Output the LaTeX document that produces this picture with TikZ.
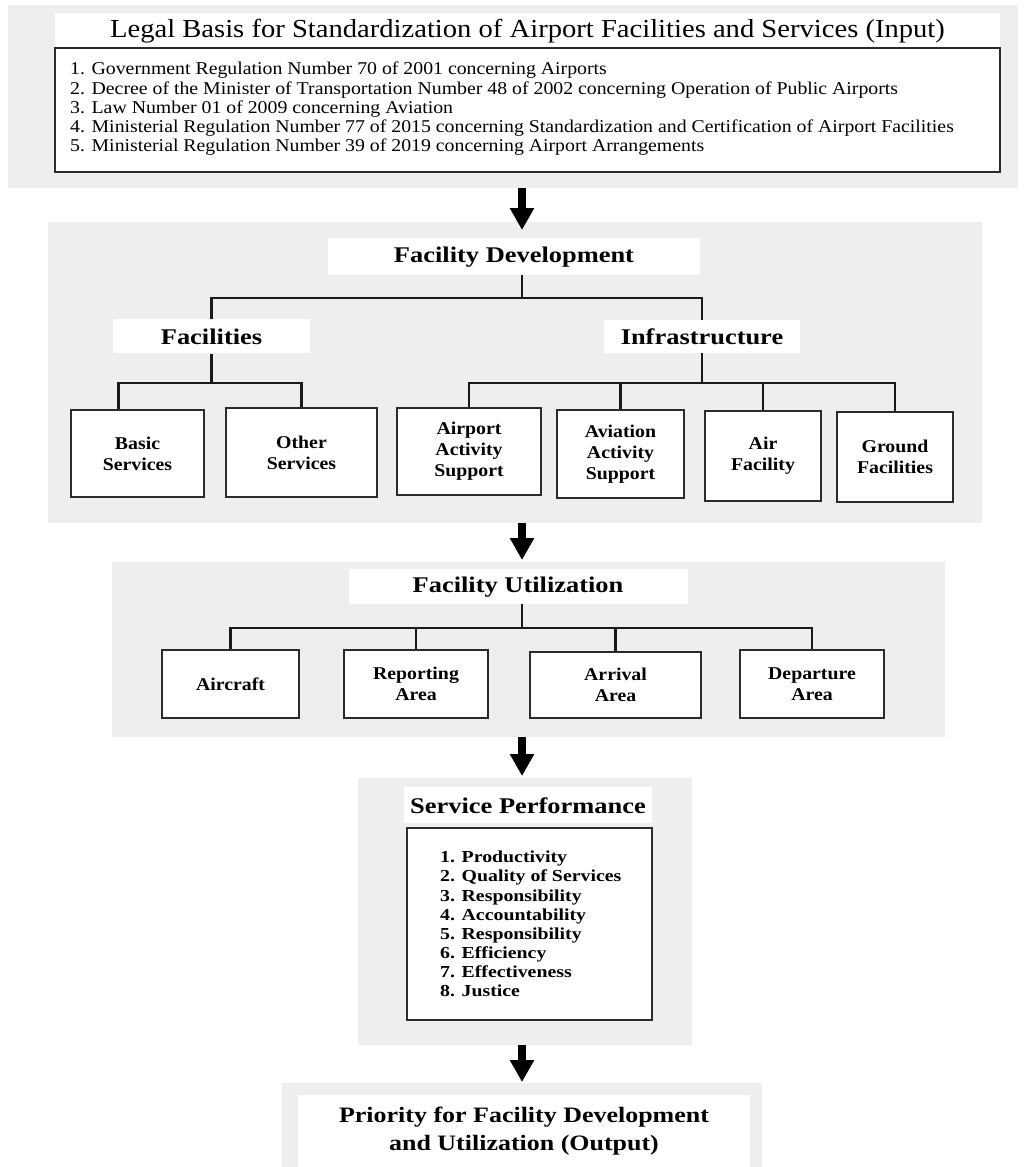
\documentclass[tikz,border=0pt]{standalone}
\usepackage{fontspec}
\setmainfont{Liberation Serif}
\newfontfamily\tfont[FakeStretch=1.1]{Liberation Serif}
\newfontfamily\wfont[FakeStretch=1.18]{Liberation Serif}
\usetikzlibrary{arrows.meta,fit}
\definecolor{bandgray}{HTML}{EEEEEE}
\definecolor{boxline}{HTML}{2B2B2B}
\begin{document}
\begin{tikzpicture}[x=1pt,y=-1pt,
  band/.style={fill=bandgray, draw=none, inner sep=0pt},
  whitebox/.style={fill=white, draw=none, inner sep=0pt},
  headlab/.style={fill=white, draw=none, inner sep=0pt, anchor=base, font=\wfont\bfseries\fontsize{22.4}{26}\selectfont},
  leaf/.style={draw=boxline, line width=1.8pt, fill=white, inner sep=0pt, align=center, font=\tfont\bfseries\fontsize{18}{21}\selectfont},
  listbox/.style={draw=boxline, line width=1.8pt, fill=white, inner sep=0pt},
  conn/.style={draw=black!90, line width=2.4pt},
  bigarrow/.style={draw=black, line width=8pt, -{Triangle[length=22pt,width=23pt]}},
]
\useasboundingbox (0,0) rectangle (1025,1167);
\fill[white] (0,0) rectangle (1025,1167);

% ---------- bands ----------
\node[band, fit={(8,5) (1018,188)}] (b1) {};
\node[band, fit={(48,222) (982,523)}] (b2) {};
\node[band, fit={(112,562) (945,737)}] (b3) {};
\node[band, fit={(358,778) (692,1045)}] (b4) {};
\node[band, fit={(282,1083) (762,1167)}] (b5) {};

\coordinate (axis) at (522,0);

% ---------- section 1 ----------
\node[fill=white, inner sep=0pt, anchor=base, minimum width=945pt, minimum height=36pt,
      font=\tfont\fontsize{26}{30}\selectfont] (title) at (527.5,37)
  {Legal Basis for Standardization of Airport Facilities and Services (Input)};
\node[listbox, fit={(55,48) (1000,172)}] (lawbox) {};
\node[anchor=north west, inner sep=0pt, align=left, font=\tfont\fontsize{18}{19.25}\selectfont] (laws) at (70,62)
  {1. Government Regulation Number 70 of 2001 concerning Airports\\
   2. Decree of the Minister of Transportation Number 48 of 2002 concerning Operation of Public Airports\\
   3. Law Number 01 of 2009 concerning Aviation\\
   4. Ministerial Regulation Number 77 of 2015 concerning Standardization and Certification of Airport Facilities\\
   5. Ministerial Regulation Number 39 of 2019 concerning Airport Arrangements};

% ---------- section 2 ----------
\node[headlab, minimum width=372pt, minimum height=37pt] (fd) at (514,262) {Facility Development};
\node[headlab, minimum width=197pt, minimum height=34pt] (fac) at (211.5,344) {Facilities};
\node[headlab, minimum width=196pt, minimum height=33pt] (inf) at (702,344) {Infrastructure};

\node[leaf, minimum width=133pt, minimum height=87pt] (bs)  at (137.5,453.5) {Basic\\Services};
\node[leaf, minimum width=151pt, minimum height=89pt] (os)  at (301.5,452.5) {Other\\Services};
\node[leaf, minimum width=144pt, minimum height=87pt] (aps) at (469,451.5)   {Airport\\Activity\\Support};
\node[leaf, minimum width=127pt, minimum height=88pt] (avs) at (620.5,454)   {Aviation\\Activity\\Support};
\node[leaf, minimum width=116pt, minimum height=90pt] (af)  at (763,456)     {Air\\Facility};
\node[leaf, minimum width=116pt, minimum height=90pt] (gf)  at (895,457)     {Ground\\Facilities};

\coordinate (fdj) at (522,298);
\draw[conn] (fd.south -| fdj) -- (fdj);
\draw[conn] (fac.north) |- (fdj) -| (inf.north);

\coordinate (facj) at (211.5,383);
\draw[conn] (fac.south) -- (facj);
\draw[conn] ([xshift=-19pt]bs.north) |- (os.north |- facj) -- (os.north);

\coordinate (infj) at (702,383);
\draw[conn] (inf.south) -- (infj);
\draw[conn] (aps.north) |- (gf.north |- infj) -- (gf.north);
\draw[conn] (avs.north) -- (avs.north |- infj);
\draw[conn] (af.north) -- (af.north |- infj);

% ---------- section 3 ----------
\node[headlab, minimum width=339pt, minimum height=35pt] (fu) at (518,592) {Facility Utilization};
\node[leaf, minimum width=137pt, minimum height=68pt] (ac)  at (230.5,684) {Aircraft};
\node[leaf, minimum width=144pt, minimum height=68pt] (rep) at (416,684)   {Reporting\\Area};
\node[leaf, minimum width=171pt, minimum height=66pt] (arr) at (615.5,685) {Arrival\\Area};
\node[leaf, minimum width=144pt, minimum height=68pt] (dep) at (812,684)   {Departure\\Area};

\coordinate (fuj) at (522,628);
\draw[conn] (fu.south -| fuj) -- (fuj);
\draw[conn] (ac.north) |- (dep.north |- fuj) -- (dep.north);
\draw[conn] (rep.north) -- (rep.north |- fuj);
\draw[conn] (arr.north) -- (arr.north |- fuj);

% ---------- section 4 ----------
\node[headlab, minimum width=248pt, minimum height=36pt] (sp) at (528,813) {Service Performance};
\node[listbox, fit={(407,828) (652,1020)}] (spbox) {};
\node[anchor=north west, inner sep=0pt, align=left, font=\wfont\bfseries\fontsize{16.8}{19.1}\selectfont] (perf) at (440,851)
  {1. Productivity\\
   2. Quality of Services\\
   3. Responsibility\\
   4. Accountability\\
   5. Responsibility\\
   6. Efficiency\\
   7. Effectiveness\\
   8. Justice};

% ---------- section 5 ----------
\node[fill=white, inner sep=0pt, minimum width=452pt, minimum height=72pt, align=center,
      font=\wfont\bfseries\fontsize{22}{28}\selectfont] (out) at (524,1131)
  {Priority for Facility Development\\and Utilization (Output)};

% ---------- arrows ----------
\coordinate (t1) at (522,230);
\coordinate (t2) at (522,560);
\coordinate (t3) at (522,776);
\coordinate (t4) at (522,1082);
\draw[bigarrow] (b1.south -| axis) -- (t1);
\draw[bigarrow] (b2.south -| axis) -- (t2);
\draw[bigarrow] (b3.south -| axis) -- (t3);
\draw[bigarrow] (b4.south -| axis) -- (t4);
\end{tikzpicture}
\end{document}
